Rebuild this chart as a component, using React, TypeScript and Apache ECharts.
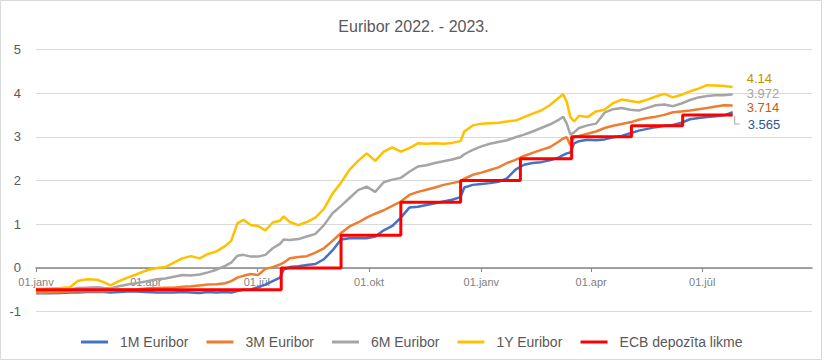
import React, { useEffect, useRef } from "react";
import * as echarts from "echarts";

const dates = [
  "2022-01-01","2022-01-11","2022-01-21","2022-01-29","2022-02-04","2022-02-12","2022-02-20","2022-02-26",
  "2022-03-03","2022-03-10","2022-03-17","2022-03-24","2022-04-01","2022-04-10","2022-04-17","2022-04-24",
  "2022-05-01","2022-05-08","2022-05-15","2022-05-22","2022-05-29","2022-06-05","2022-06-10","2022-06-15",
  "2022-06-20","2022-06-26","2022-07-02","2022-07-08","2022-07-14","2022-07-20","2022-07-23","2022-07-28",
  "2022-08-04","2022-08-11","2022-08-18","2022-08-25","2022-09-01","2022-09-08","2022-09-15","2022-09-22",
  "2022-09-29","2022-10-06","2022-10-13","2022-10-20","2022-10-27","2022-11-03","2022-11-10","2022-11-17",
  "2022-11-24","2022-12-01","2022-12-08","2022-12-15","2022-12-18","2022-12-25","2023-01-01","2023-01-08",
  "2023-01-15","2023-01-22","2023-01-29","2023-02-05","2023-02-12","2023-02-19","2023-02-26","2023-03-05",
  "2023-03-09","2023-03-12","2023-03-15","2023-03-18","2023-03-22","2023-03-29","2023-04-05","2023-04-12",
  "2023-04-19","2023-04-26","2023-05-03","2023-05-10","2023-05-17","2023-05-24","2023-05-31","2023-06-07",
  "2023-06-14","2023-06-21","2023-06-28","2023-07-05","2023-07-12","2023-07-19","2023-07-26",
];

const euribor1Y = [
  -0.48,-0.47,-0.46,-0.44,-0.30,-0.26,-0.27,-0.33,
  -0.40,-0.30,-0.22,-0.15,-0.06,0.00,0.02,0.12,
  0.22,0.27,0.22,0.32,0.38,0.50,0.62,1.02,
  1.10,0.98,0.96,0.86,1.04,1.08,1.18,1.05,
  0.98,1.05,1.15,1.35,1.70,1.95,2.25,2.45,
  2.62,2.45,2.66,2.76,2.66,2.74,2.85,2.84,
  2.85,2.84,2.86,2.90,3.12,3.26,3.30,3.31,
  3.32,3.35,3.37,3.45,3.53,3.60,3.72,3.88,
  3.97,3.80,3.45,3.35,3.48,3.45,3.58,3.62,
  3.77,3.85,3.82,3.79,3.85,3.92,3.98,3.90,
  3.96,4.04,4.10,4.18,4.17,4.16,4.14,
];

const euribor6M = [
  -0.52,-0.52,-0.51,-0.50,-0.46,-0.45,-0.44,-0.46,
  -0.47,-0.42,-0.38,-0.35,-0.31,-0.26,-0.24,-0.20,
  -0.16,-0.17,-0.15,-0.10,-0.04,0.05,0.12,0.28,
  0.30,0.26,0.26,0.30,0.45,0.55,0.65,0.64,
  0.66,0.72,0.78,0.98,1.25,1.42,1.60,1.78,
  1.86,1.74,1.96,2.02,2.06,2.20,2.32,2.35,
  2.40,2.44,2.48,2.53,2.60,2.70,2.78,2.84,
  2.88,2.92,2.99,3.05,3.12,3.20,3.28,3.38,
  3.46,3.30,3.05,3.10,3.20,3.26,3.30,3.55,
  3.63,3.66,3.62,3.60,3.66,3.72,3.74,3.70,
  3.76,3.84,3.90,3.93,3.95,3.95,3.972,
];

const euribor3M = [
  -0.57,-0.56,-0.55,-0.54,-0.53,-0.53,-0.53,-0.53,
  -0.52,-0.50,-0.50,-0.49,-0.47,-0.46,-0.45,-0.45,
  -0.43,-0.42,-0.40,-0.38,-0.37,-0.35,-0.30,-0.22,
  -0.18,-0.14,-0.16,-0.02,0.02,0.08,0.12,0.22,
  0.25,0.27,0.35,0.45,0.62,0.80,0.95,1.04,
  1.15,1.24,1.32,1.42,1.52,1.67,1.74,1.79,
  1.84,1.90,1.94,1.98,2.04,2.13,2.18,2.24,
  2.30,2.40,2.47,2.56,2.63,2.70,2.76,2.88,
  2.96,2.99,2.80,3.00,3.02,3.07,3.12,3.20,
  3.25,3.29,3.33,3.39,3.43,3.46,3.50,3.56,
  3.58,3.60,3.63,3.66,3.69,3.72,3.714,
];

const euribor1M = [
  -0.58,-0.58,-0.57,-0.56,-0.56,-0.55,-0.55,-0.55,
  -0.56,-0.55,-0.54,-0.54,-0.55,-0.56,-0.56,-0.56,
  -0.55,-0.56,-0.57,-0.55,-0.56,-0.55,-0.56,-0.53,
  -0.50,-0.49,-0.44,-0.38,-0.30,-0.22,-0.04,0.02,
  0.04,0.07,0.09,0.20,0.40,0.65,0.68,0.68,
  0.68,0.72,0.86,0.96,1.15,1.38,1.40,1.44,
  1.48,1.52,1.56,1.62,1.84,1.90,1.92,1.94,
  1.97,2.05,2.25,2.36,2.40,2.42,2.46,2.52,
  2.58,2.62,2.64,2.85,2.90,2.93,2.92,2.94,
  2.99,3.02,3.08,3.14,3.18,3.22,3.25,3.27,
  3.32,3.40,3.43,3.45,3.47,3.49,3.565,
];

const ecbDates = [
  "2022-01-01","2022-07-21","2022-09-08","2022-10-27","2022-12-15",
  "2023-02-02","2023-03-16","2023-05-04","2023-06-15","2023-07-26",
];
const ecbRates = [-0.5, 0, 0.75, 1.5, 2, 2.5, 3, 3.25, 3.5, 3.5];

const tickDates = ["2022-01-01","2022-04-01","2022-07-01","2022-10-01","2023-01-01","2023-04-01","2023-07-01"];
const monthNames = ["janv","febr","marts","apr","maijs","jūn","jūl","aug","sept","okt","nov","dec"];
const yTicks = { min: -1, max: 5, interval: 1 };
const axisRange = { min: "2022-01-01", max: "2023-09-29" };

const seriesNames = ["1M Euribor", "3M Euribor", "6M Euribor", "1Y Euribor", "ECB depozīta likme"];

const toTs = (s: string) => {
  const [y, m, d] = s.split("-").map(Number);
  return new Date(y, m - 1, d).getTime();
};

const FONT = "'Liberation Sans', Arial, sans-serif";
const W = 827;
const H = 362;
const GRID = { left: 36, right: 15, top: 49.3, bottom: 50.3 };

export default function App() {
  const ref = useRef<HTMLDivElement>(null);

  useEffect(() => {
    document.body.style.margin = "0";
    if (!ref.current) return;
    const chart = echarts.init(ref.current, null, { renderer: "svg" });

    const pairs = (vals: number[]) => dates.map((d, i) => [toTs(d), vals[i]]);

    const mkLine = (name: string, vals: number[], color: string, labelColor: string, offset: number[]) => ({
      name,
      type: "line",
      data: pairs(vals),
      showSymbol: false,
      symbol: "none",
      lineStyle: { color, width: 2.5 },
      itemStyle: { color },
      emphasis: { disabled: true },
      endLabel: {
        show: true,
        formatter: (p: any) => String(p.value[1]),
        color: labelColor,
        fontSize: 13,
        lineHeight: 13,
        fontFamily: FONT,
        offset,
      },
    });

    const border = {
      type: "rect",
      shape: { x: 0.5, y: 0.5, width: 821, height: 359 },
      style: { fill: "none", stroke: "#d9d9d9", lineWidth: 1 },
      silent: true,
    };

    // place the x axis on y = 0 (label and ticks included)
    const gridH = H - GRID.top - GRID.bottom;
    const zeroOffset = -((0 - yTicks.min) / (yTicks.max - yTicks.min)) * gridH;

    const option: any = {
      animation: false,
      title: {
        text: "Euribor 2022. - 2023.",
        left: "center",
        top: 13,
        textStyle: { fontFamily: FONT, fontSize: 16, fontWeight: "normal", color: "#595959" },
      },
      grid: { ...GRID, containLabel: false },
      legend: {
        bottom: 8,
        left: 76,
        icon: "rect",
        itemWidth: 27,
        itemHeight: 3,
        itemGap: 18,
        data: seriesNames,
        textStyle: { fontFamily: FONT, fontSize: 14, color: "#595959", padding: [0, 0, 0, 7] },
      },
      xAxis: {
        type: "value",
        min: toTs(axisRange.min),
        max: toTs(axisRange.max),
        offset: zeroOffset,
        axisLine: { onZero: false, lineStyle: { color: "#868686", width: 1.5 } },
        axisTick: {
          show: true,
          length: 4,
          customValues: tickDates.map(toTs),
          lineStyle: { color: "#868686" },
        },
        axisLabel: {
          customValues: tickDates.map(toTs),
          margin: 9,
          fontSize: 11,
          fontFamily: FONT,
          color: "#7f7f7f",
          formatter: (v: number) => {
            const d = new Date(v);
            const dd = String(d.getDate()).padStart(2, "0");
            return dd + "." + monthNames[d.getMonth()];
          },
        },
        splitLine: { show: false },
      },
      yAxis: {
        type: "value",
        min: yTicks.min,
        max: yTicks.max,
        interval: yTicks.interval,
        axisLine: { show: false },
        axisTick: { show: false },
        axisLabel: { fontSize: 13, fontFamily: FONT, color: "#595959", margin: 15 },
        splitLine: { lineStyle: { color: "#d9d9d9", width: 1 } },
      },
      series: [
        mkLine(seriesNames[0], euribor1M, "#4472C4", "#2F5597", [7, 12]),
        mkLine(seriesNames[1], euribor3M, "#ED7D31", "#C55A11", [6, 2]),
        mkLine(seriesNames[2], euribor6M, "#A5A5A5", "#A5A5A5", [6, -1]),
        mkLine(seriesNames[3], euribor1Y, "#FFC000", "#BF9000", [6, -8]),
        {
          name: seriesNames[4],
          type: "line",
          step: "end",
          data: ecbDates.map((d, i) => [toTs(d), ecbRates[i]]),
          showSymbol: false,
          symbol: "none",
          lineStyle: { color: "#FF0000", width: 3 },
          itemStyle: { color: "#FF0000" },
          emphasis: { disabled: true },
        },
      ],
      graphic: [border],
    };

    chart.setOption(option);

    // leader line for the 1M end label, positioned from the axis scales
    const last = dates.length - 1;
    const p = chart.convertToPixel({ xAxisIndex: 0, yAxisIndex: 0 }, [toTs(dates[last]), euribor1M[last]]) as number[];
    if (p) {
      chart.setOption({
        graphic: [
          border,
          {
            type: "polyline",
            shape: { points: [[p[0] + 2, p[1] + 4], [p[0] + 2, p[1] + 12], [p[0] + 7, p[1] + 12]] },
            style: { stroke: "#A5A5A5", lineWidth: 1, fill: "none" },
            silent: true,
          },
        ],
      });
    }

    return () => chart.dispose();
  }, []);

  return <div ref={ref} style={{ width: W, height: H }} />;
}
